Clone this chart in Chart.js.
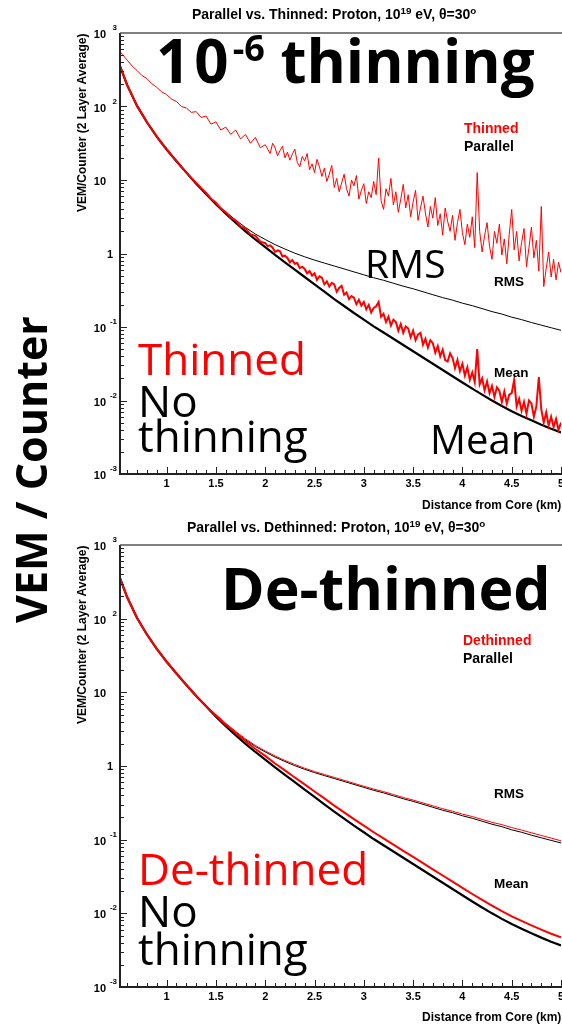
<!DOCTYPE html>
<html>
<head>
<meta charset="utf-8">
<script src="https://cdn.jsdelivr.net/npm/chart.js@4.4.1/dist/chart.umd.min.js"></script>
<style>
  body { margin: 0; background: #fff; }
  #page { position: relative; width: 562px; height: 1024px; overflow: hidden; background: #fff; }
  #page canvas { position: absolute; left: 0; }
  .lbl { position: absolute; white-space: nowrap; line-height: 1; }
  .sup { position: relative; }
</style>
</head>
<body>
<div id="page">
  <canvas id="topChart" width="562" height="512" style="top:0"></canvas>
  <canvas id="botChart" width="562" height="512" style="top:512px"></canvas>
</div>
<script>
// distance from core (km) for the smooth (parallel / dethinned) curves
const distSmooth = [0.527, 0.6, 0.7, 0.8, 0.9, 1.0, 1.1, 1.2, 1.3, 1.4, 1.5, 1.6, 1.7, 1.8, 1.9,
  2.0, 2.1, 2.2, 2.3, 2.4, 2.5, 2.6, 2.7, 2.8, 2.9, 3.0, 3.1, 3.2, 3.3, 3.4, 3.5, 3.6, 3.7, 3.8, 3.9,
  4.0, 4.1, 4.2, 4.3, 4.4, 4.5, 4.6, 4.7, 4.8, 4.9, 5.0];

// VEM/counter, parallel (no thinning)
const parallelMean = [355, 195, 102, 61.0, 38.9, 26.0, 18.0, 12.6, 8.91, 6.46, 4.68, 3.47, 2.63, 2.00, 1.55,
  1.22, 0.955, 0.759, 0.603, 0.479, 0.380, 0.302, 0.240, 0.193, 0.155, 0.126, 0.102, 0.0841, 0.0692, 0.0569,
  0.0468, 0.0385, 0.0316, 0.0260, 0.0214, 0.0176, 0.0145, 0.0120, 0.0100, 0.00841, 0.00716, 0.00617,
  0.00537, 0.00468, 0.00412, 0.00367];
const parallelRms = [355, 195, 102, 61.0, 38.9, 26.0, 18.0, 12.6, 8.91, 6.53, 4.84, 3.67, 2.85, 2.26, 1.84,
  1.55, 1.32, 1.15, 1.01, 0.902, 0.813, 0.741, 0.676, 0.617, 0.562, 0.513, 0.468, 0.432, 0.394, 0.359,
  0.331, 0.302, 0.275, 0.251, 0.232, 0.211, 0.195, 0.178, 0.162, 0.150, 0.136, 0.126, 0.115, 0.106,
  0.0977, 0.0902];

// de-thinned
const dethinnedMean = [355, 195, 102, 61.0, 38.9, 26.0, 18.0, 12.6, 8.91, 6.50, 4.79, 3.63, 2.82, 2.17, 1.70,
  1.37, 1.08, 0.871, 0.699, 0.563, 0.451, 0.363, 0.290, 0.235, 0.190, 0.155, 0.126, 0.104, 0.0856, 0.0706,
  0.0583, 0.0481, 0.0396, 0.0326, 0.0269, 0.0222, 0.0183, 0.0152, 0.0127, 0.0107, 0.00912, 0.00788,
  0.00687, 0.00600, 0.00529, 0.00473];
const dethinnedRms = [355, 195, 102, 61.0, 38.9, 26.0, 18.0, 12.6, 8.95, 6.60, 5.01, 3.80, 2.95, 2.34, 1.90,
  1.60, 1.37, 1.19, 1.05, 0.934, 0.841, 0.767, 0.700, 0.639, 0.582, 0.531, 0.486, 0.449, 0.410, 0.374,
  0.345, 0.315, 0.288, 0.263, 0.243, 0.222, 0.206, 0.188, 0.172, 0.160, 0.146, 0.135, 0.124, 0.114,
  0.105, 0.0965];

// thinned (10^-6) curves are noisy, so finer bins
const distNear = [0.527, 0.55, 0.60, 0.65, 0.70, 0.75, 0.80, 0.85, 0.90, 0.95, 1.00, 1.05, 1.10, 1.15, 1.20,
  1.25, 1.30, 1.35, 1.40, 1.45, 1.50, 1.55, 1.60, 1.65, 1.70, 1.75, 1.80, 1.85, 1.90, 1.95];
const distFar = [2.000, 2.025, 2.050, 2.075, 2.100, 2.125, 2.150, 2.175, 2.200, 2.225,
  2.250, 2.275, 2.300, 2.325, 2.350, 2.375, 2.400, 2.425, 2.450, 2.475,
  2.500, 2.525, 2.550, 2.575, 2.600, 2.625, 2.650, 2.675, 2.700, 2.725,
  2.750, 2.775, 2.800, 2.825, 2.850, 2.875, 2.900, 2.925, 2.950, 2.975,
  3.000, 3.025, 3.050, 3.075, 3.100, 3.125, 3.150, 3.175, 3.200, 3.225,
  3.250, 3.275, 3.300, 3.325, 3.350, 3.375, 3.400, 3.425, 3.450, 3.475,
  3.500, 3.525, 3.550, 3.575, 3.600, 3.625, 3.650, 3.675, 3.700, 3.725,
  3.750, 3.775, 3.800, 3.825, 3.850, 3.875, 3.900, 3.925, 3.950, 3.975,
  4.000, 4.025, 4.050, 4.075, 4.100, 4.125, 4.150, 4.175, 4.200, 4.225,
  4.250, 4.275, 4.300, 4.325, 4.350, 4.375, 4.400, 4.425, 4.450, 4.475,
  4.500, 4.525, 4.550, 4.575, 4.600, 4.625, 4.650, 4.675, 4.700, 4.725,
  4.750, 4.775, 4.800, 4.825, 4.850, 4.875, 4.900, 4.925, 4.950, 4.975, 5.000];

const thinnedRmsNear = [562, 513, 427, 355, 309, 263, 240, 204, 182, 158, 145, 126, 117, 100, 95.5,
  83.2, 85.1, 70.8, 74.1, 57.5, 61.7, 47.9, 52.5, 41.7, 47.9, 36.3, 41.7, 31.6, 38.0, 27.5];
const thinnedRmsFar = [30.2, 26.3, 22.9, 31.6, 27.5, 21.4, 25.1, 28.8, 20.0, 24.0,
  18.6, 22.4, 26.3, 17.4, 15.1, 20.9, 18.2, 22.9, 13.8, 16.6,
  12.6, 19.1, 15.1, 11.2, 14.5, 9.55, 12.0, 15.8, 7.94, 10.5,
  6.92, 9.12, 12.0, 7.59, 6.03, 10.0, 8.32, 11.5, 5.50, 7.24,
  8.91, 4.79, 6.92, 5.75, 9.55, 6.31, 20.0, 5.25, 3.98, 7.59,
  6.03, 10.5, 4.57, 6.92, 3.63, 5.50, 8.71, 4.17, 6.31, 3.16,
  5.01, 7.24, 2.82, 4.17, 6.03, 3.55, 2.29, 4.37, 3.02, 5.75,
  2.40, 3.47, 1.78, 4.17, 2.75, 2.00, 3.31, 1.51, 2.63, 3.98,
  1.91, 1.32, 2.51, 1.66, 3.16, 1.20, 12.6, 2.00, 1.05, 1.74,
  2.63, 1.26, 0.832, 2.00, 1.38, 2.51, 0.955, 1.58, 0.724, 1.82,
  3.98, 1.12, 2.00, 0.794, 1.41, 2.19, 0.661, 1.20, 2.29, 0.871,
  1.51, 0.575, 4.37, 0.355, 0.631, 1.05, 0.479, 0.832, 0.437, 0.759, 0.550];

const thinnedMeanNear = [355, 295, 195, 141, 102, 79.4, 61.0, 49.0, 38.9, 31.6, 26.3, 21.6, 18.2, 15.1, 12.7,
  10.7, 9.12, 7.76, 6.68, 5.56, 4.90, 4.07, 3.63, 3.09, 2.82, 2.34, 2.19, 1.82, 1.74, 1.45];
const thinnedMeanFar = [1.38, 1.26, 1.29, 1.20, 1.05, 1.10, 1.07, 0.912, 0.933, 0.871,
  0.759, 0.813, 0.724, 0.741, 0.631, 0.661, 0.617, 0.537, 0.575, 0.501,
  0.537, 0.437, 0.490, 0.468, 0.380, 0.417, 0.355, 0.398, 0.380, 0.302,
  0.339, 0.363, 0.275, 0.295, 0.240, 0.263, 0.251, 0.204, 0.234, 0.195,
  0.219, 0.174, 0.200, 0.158, 0.182, 0.191, 0.219, 0.138, 0.151, 0.117,
  0.138, 0.105, 0.126, 0.117, 0.0891, 0.110, 0.0832, 0.102, 0.0955, 0.0724,
  0.0891, 0.0661, 0.0794, 0.0832, 0.0575, 0.0692, 0.0525, 0.0661, 0.0603, 0.0447,
  0.0550, 0.0398, 0.0490, 0.0355, 0.0339, 0.0437, 0.0380, 0.0275, 0.0355, 0.0251,
  0.0316, 0.0219, 0.0282, 0.0191, 0.0240, 0.0178, 0.0501, 0.0166, 0.0200, 0.0138,
  0.0182, 0.0126, 0.0158, 0.0112, 0.0151, 0.0135, 0.00955, 0.0132, 0.00912, 0.0120,
  0.0126, 0.0191, 0.00832, 0.0105, 0.00724, 0.00955, 0.00661, 0.0100, 0.00912, 0.00603,
  0.00832, 0.0209, 0.00759, 0.00501, 0.00692, 0.00457, 0.00603, 0.00437, 0.00562, 0.00398, 0.00501];

const xTickLabels = [1, 1.5, 2, 2.5, 3, 3.5, 4, 4.5, 5];
const yDecades = [-3, -2, -1, 0, 1, 2, 3];

const RED = "#ff0000";
const ROOT_FONT = '"Liberation Sans", Arial, sans-serif';

function pts(xs, ys){
  return xs.map((d, i) => ({ x: d, y: ys[i] }));
}

function line(data, color, width){
  return { data: data, borderColor: color, borderWidth: width, pointRadius: 0, tension: 0, fill: false };
}

// ROOT-like frame, inward ticks and 10^n labels
const rootAxes = {
  id: "rootAxes",
  afterDatasetsDraw(chart){
    const { ctx, chartArea: area, scales: { x, y } } = chart;
    ctx.save();

    ctx.strokeStyle = "#222";
    ctx.lineWidth = 1;
    ctx.beginPath();
    for (let e = -3; e < 3; e++){
      for (let m = 1; m <= 9; m++){
        const py = Math.round(y.getPixelForValue(m * Math.pow(10, e))) + 0.5;
        ctx.moveTo(area.left, py);
        ctx.lineTo(area.left + (m === 1 ? 7 : 4), py);
      }
    }
    for (let i = 6; i <= 50; i++){
      const px = Math.round(x.getPixelForValue(i / 10)) + 0.5;
      ctx.moveTo(px, area.bottom);
      ctx.lineTo(px, area.bottom - (i % 5 === 0 ? 7 : 4));
    }
    ctx.stroke();

    ctx.lineWidth = 2;
    ctx.beginPath();
    ctx.moveTo(area.left, area.top);
    ctx.lineTo(area.left, area.bottom);
    ctx.lineTo(area.right + 2, area.bottom);
    ctx.stroke();
    ctx.strokeStyle = "#555";
    ctx.lineWidth = 1.5;
    ctx.beginPath();
    ctx.moveTo(area.left, area.top);
    ctx.lineTo(area.right + 2, area.top);
    ctx.stroke();

    ctx.fillStyle = "#000";
    ctx.textBaseline = "alphabetic";
    ctx.textAlign = "right";
    for (const e of yDecades){
      const py = y.getPixelForValue(Math.pow(10, e));
      ctx.font = "bold 11px " + ROOT_FONT;
      if (e === 0){
        ctx.fillText("1", 113, py + 4);
        continue;
      }
      ctx.fillText("10", 106, py + 5);
      if (e !== 1){
        ctx.font = "bold 8px " + ROOT_FONT;
        ctx.fillText(String(e), 117, py - 3);
      }
    }
    ctx.font = "bold 11px " + ROOT_FONT;
    ctx.textAlign = "center";
    for (const v of xTickLabels){
      ctx.fillText(String(v), x.getPixelForValue(v), area.bottom + 13);
    }
    ctx.restore();
  }
};

function panelOptions(padBottom){
  return {
    animation: false,
    responsive: false,
    devicePixelRatio: 1,
    layout: { padding: { left: 120, top: 33, right: 1, bottom: padBottom } },
    scales: {
      x: { type: "linear", min: 0.527, max: 5.0, display: false },
      y: { type: "logarithmic", min: 0.001, max: 1000, display: false }
    },
    plugins: { legend: { display: false }, tooltip: { enabled: false } }
  };
}

const distThinned = distNear.concat(distFar);

new Chart(document.getElementById("topChart"), {
  type: "line",
  data: {
    datasets: [
      line(pts(distThinned, thinnedMeanNear.concat(thinnedMeanFar)), RED, 2),
      line(pts(distThinned, thinnedRmsNear.concat(thinnedRmsFar)), RED, 1),
      line(pts(distSmooth, parallelRms), "#000", 1),
      line(pts(distSmooth, parallelMean), "#000", 2.2)
    ]
  },
  options: panelOptions(38),
  plugins: [rootAxes]
});

new Chart(document.getElementById("botChart"), {
  type: "line",
  data: {
    datasets: [
      line(pts(distSmooth, dethinnedRms), RED, 1),
      line(pts(distSmooth, dethinnedMean), RED, 2),
      line(pts(distSmooth, parallelRms), "#000", 1),
      line(pts(distSmooth, parallelMean), "#000", 2.2)
    ]
  },
  options: panelOptions(37),
  plugins: [rootAxes]
});

// text, placed by baseline
const page = document.getElementById("page");

function addText(html, o){
  const d = document.createElement("div");
  d.className = "lbl";
  d.innerHTML = html;
  const open = o.fam === "open";
  d.style.fontFamily = open ? '"Open Sans", sans-serif' : ROOT_FONT;
  d.style.fontSize = o.size + "px";
  d.style.fontWeight = o.bold ? "bold" : "normal";
  d.style.color = o.color || "#000";
  page.appendChild(d);
  const k = open ? 0.888 : 0.8465;
  const w = d.offsetWidth;
  if (o.rot){
    d.style.transformOrigin = "0 0";
    d.style.transform = "rotate(-90deg)";
    d.style.left = (o.x - k * o.size) + "px";
    d.style.top = (o.yEnd !== undefined ? o.yEnd + w : o.yMid + w / 2) + "px";
  } else {
    let left = o.x;
    if (o.align === "right") left = o.x - w;
    if (o.align === "center") left = o.x - w / 2;
    d.style.left = left + "px";
    d.style.top = (o.y - k * o.size) + "px";
  }
}

const sup = (t, em, raise) => `<span class="sup" style="font-size:${em}em;top:-${raise}em">${t}</span>`;

// top panel
addText(`Parallel vs. Thinned: Proton, 10${sup("19", 0.7, 0.5)} eV, &theta;=30${sup("o", 0.7, 0.5)}`, { x: 334, y: 19, size: 14, bold: true, align: "center" });
addText("VEM/Counter (2 Layer Average)", { x: 86, yEnd: 33, size: 12, bold: true, rot: true });
addText("Distance from Core (km)", { x: 561, y: 509, size: 12, bold: true, align: "right" });
addText("Thinned", { x: 464, y: 133, size: 14, bold: true, color: RED });
addText("Parallel", { x: 464, y: 151, size: 14, bold: true });
addText("RMS", { x: 494, y: 286, size: 13.5, bold: true });
addText("Mean", { x: 494, y: 377, size: 13.5, bold: true });
addText(`<span style="letter-spacing:4px">10</span>${sup("-6", 0.6, 0.6)}&nbsp;thinning`, { x: 156, y: 83, size: 60, bold: true, fam: "open" });
addText("RMS", { x: 365, y: 278, size: 39, fam: "open" });
addText("Mean", { x: 430, y: 455, size: 40, fam: "open" });
addText("Thinned", { x: 138, y: 375, size: 44, fam: "open", color: RED });
addText("No", { x: 138, y: 417, size: 44, fam: "open" });
addText("thinning", { x: 138, y: 452, size: 44, fam: "open" });

// bottom panel
addText(`Parallel vs. Dethinned: Proton, 10${sup("19", 0.7, 0.5)} eV, &theta;=30${sup("o", 0.7, 0.5)}`, { x: 336, y: 532, size: 14, bold: true, align: "center" });
addText("VEM/Counter (2 Layer Average)", { x: 86, yEnd: 545, size: 12, bold: true, rot: true });
addText("Distance from Core (km)", { x: 561, y: 1021, size: 12, bold: true, align: "right" });
addText("Dethinned", { x: 463, y: 645, size: 14, bold: true, color: RED });
addText("Parallel", { x: 463, y: 663, size: 14, bold: true });
addText("RMS", { x: 494, y: 798, size: 13.5, bold: true });
addText("Mean", { x: 494, y: 888, size: 13.5, bold: true });
addText("De-thinned", { x: 221, y: 610, size: 59, bold: true, fam: "open" });
addText("De-thinned", { x: 138, y: 885, size: 44, fam: "open", color: RED });
addText("No", { x: 138, y: 927, size: 44, fam: "open" });
addText("thinning", { x: 138, y: 965, size: 44, fam: "open" });

// shared axis label
addText("VEM / Counter", { x: 47, yMid: 469, size: 43, bold: true, fam: "open", rot: true });
</script>
</body>
</html>
